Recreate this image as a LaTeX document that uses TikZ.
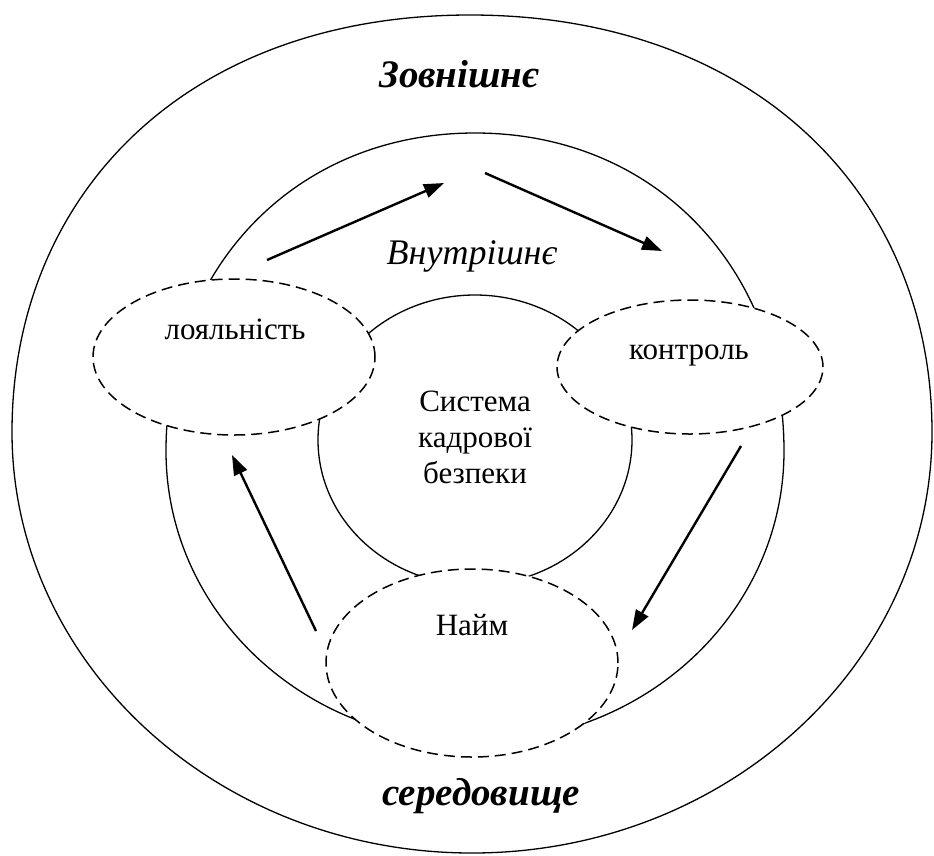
\documentclass[tikz,border=0pt]{standalone}
\usepackage{fontspec}
\setmainfont{Liberation Serif}
\usetikzlibrary{shapes.geometric,arrows.meta}
\begin{document}
\begin{tikzpicture}[x=1pt,y=-1pt,
  ring/.style={draw, line width=1.3pt},
  zone/.style={draw, dash pattern=on 11pt off 6pt, line width=1.5pt, fill=white, ellipse, inner sep=0pt},
  flow/.style={-{Triangle[length=20pt,width=14pt]}, line width=2.4pt},
  lbl/.style={font=\fontsize{31}{36}\selectfont, anchor=base, inner sep=0pt},
  big/.style={font=\fontsize{39}{44}\selectfont\bfseries\itshape, anchor=base, inner sep=0pt},
  mid/.style={font=\fontsize{36}{40}\selectfont\itshape, anchor=base, inner sep=0pt}]
\useasboundingbox (0,0) rectangle (934,855);
% outer environment
\draw[ring] (12,432) .. controls (12,195) and (186,15) .. (470,15)
  .. controls (755,15) and (932,195) .. (932,432)
  .. controls (932,664) and (726,853) .. (472,853)
  .. controls (218,853) and (12,664) .. (12,432) -- cycle;
% internal environment
\draw[ring] (166,451) .. controls (166,272) and (292,133) .. (475,133)
  .. controls (658,133) and (784,272) .. (784,451)
  .. controls (784,612) and (646,742) .. (475,742)
  .. controls (304,742) and (166,612) .. (166,451) -- cycle;
% system core
\draw[ring] (475,440) ellipse[x radius=157, y radius=145];
% dashed zones
\node[zone, minimum width=282pt, minimum height=156pt] (loy) at (234,357) {};
\node[zone, minimum width=266pt, minimum height=134pt] (ctl) at (690,367) {};
\node[zone, minimum width=292pt, minimum height=188pt] (hire) at (472,663) {};
% texts
\node[big] (ext1) at (459,87) {Зовнішнє};
\node[big] (ext2) at (481,805) {середовище};
\node[mid] (int) at (472,264) {Внутрішнє};
\node[lbl] (tloy) at (235,339) {лояльність};
\node[lbl] (tctl) at (689,359) {контроль};
\node[lbl] (thire) at (472,635) {Найм};
\node[lbl] (s1) at (475,411) {Система};
\node[lbl] (s2) at (475,447) {кадрової};
\node[lbl] (s3) at (475,483) {безпеки};
% arrows
\coordinate (a1s) at (267,260);
\coordinate (a1e) at (444,183);
\coordinate (a2s) at (485,173);
\coordinate (a2e) at (662,251);
\coordinate (a3s) at (741,446);
\coordinate (a3e) at (632,630);
\coordinate (a4s) at (316,631);
\coordinate (a4e) at (232,455);
\draw[flow] (a1s) -- (a1e);
\draw[flow] (a2s) -- (a2e);
\draw[flow] (a3s) -- (a3e);
\draw[flow] (a4s) -- (a4e);
\end{tikzpicture}
\end{document}
